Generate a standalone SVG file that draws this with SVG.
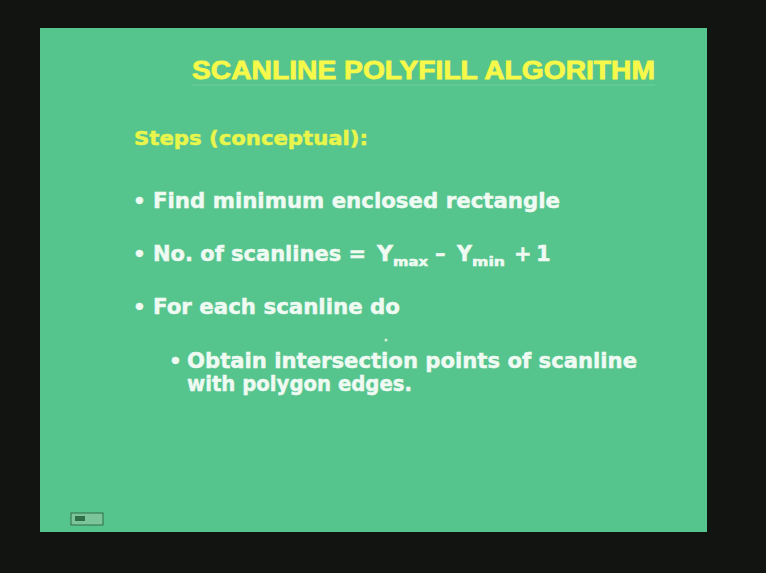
<svg xmlns="http://www.w3.org/2000/svg" width="766" height="573" viewBox="0 0 766 573">
<style>
.t{font-family:"DejaVu Sans","Verdana",sans-serif;font-weight:bold;fill:#eefaf2;stroke:#eefaf2;stroke-width:0.5}
.y{font-family:"DejaVu Sans",sans-serif;font-weight:bold;fill:#e8f64c;stroke:#e8f64c;stroke-width:0.5}
.ti{font-family:"Liberation Sans",Arial,sans-serif;font-weight:bold;fill:#f6f84a;stroke:#f6f84a;stroke-width:0.8}
</style>
<rect x="0" y="0" width="766" height="573" fill="#121411"/>
<g id="slide">
<rect x="40" y="28" width="667" height="504" fill="#56c48d"/>
</g>
<g id="title">
<text class="ti" x="192" y="79" font-size="25" textLength="463" lengthAdjust="spacingAndGlyphs">SCANLINE POLYFILL ALGORITHM</text>
<line x1="192" y1="85" x2="655" y2="85" stroke="#6fd0a0" stroke-width="1"/>
</g>
<g id="steps">
<text class="y" x="134" y="145" font-size="20" textLength="234" lengthAdjust="spacingAndGlyphs">Steps (conceptual):</text>
</g>
<g id="b1">
<text class="t" x="133" y="208" font-size="20">•</text>
<text class="t" x="153" y="208" font-size="21" textLength="407" lengthAdjust="spacingAndGlyphs">Find minimum enclosed rectangle</text>
</g>
<g id="b2">
<text class="t" x="133" y="261" font-size="20">•</text>
<text class="t" x="153" y="261" font-size="21" textLength="213" lengthAdjust="spacingAndGlyphs">No. of scanlines =</text>
<text class="t" x="377" y="261" font-size="21" textLength="16" lengthAdjust="spacingAndGlyphs">Y</text>
<text class="t" x="393" y="266" font-size="12" textLength="35" lengthAdjust="spacingAndGlyphs">max</text>
<text class="t" x="435" y="261" font-size="21">–</text>
<text class="t" x="457" y="261" font-size="21" textLength="15" lengthAdjust="spacingAndGlyphs">Y</text>
<text class="t" x="472" y="266" font-size="12" textLength="33" lengthAdjust="spacingAndGlyphs">min</text>
<text class="t" x="514" y="261" font-size="21">+</text>
<text class="t" x="536" y="261" font-size="21">1</text>
</g>
<g id="b3">
<text class="t" x="133" y="314" font-size="20">•</text>
<text class="t" x="153" y="314" font-size="21" textLength="247" lengthAdjust="spacingAndGlyphs">For each scanline do</text>
</g>
<circle cx="386" cy="340" r="1.5" fill="#d8f0e0"/>
<g id="b4">
<text class="t" x="169" y="368" font-size="20">•</text>
<text class="t" x="187" y="368" font-size="21" textLength="450" lengthAdjust="spacingAndGlyphs">Obtain intersection points of scanline</text>
<text class="t" x="187" y="391" font-size="21" textLength="225" lengthAdjust="spacingAndGlyphs">with polygon edges.</text>
</g>
<g id="icon">
<rect x="71" y="513" width="32" height="12" fill="#7cc49a" stroke="#2f6e48" stroke-width="1"/>
<rect x="75" y="516" width="10" height="5" fill="#2f6e48"/>
</g>
</svg>
